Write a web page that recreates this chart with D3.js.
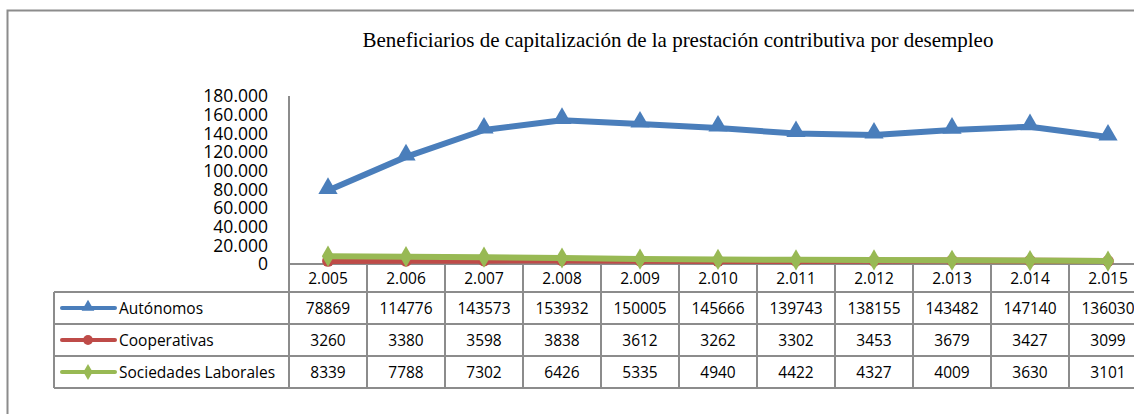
<!DOCTYPE html>
<html>
<head>
<meta charset="utf-8">
<style>
  body { margin: 0; background: #fff; }
  svg { display: block; }
  .ylab { font-family: "Open Sans", sans-serif; font-size: 17.5px; fill: #000; }
  .cell { font-family: "Open Sans", sans-serif; font-size: 15.5px; fill: #000; }
  .title { font-family: "Liberation Serif", serif; font-size: 21px; fill: #000; }
  .grid { stroke: #8c8c8c; stroke-width: 2; fill: none; }
</style>
</head>
<body>
<script src="https://cdn.jsdelivr.net/npm/d3@7"></script>
<script>
  // data
  var years = ["2.005", "2.006", "2.007", "2.008", "2.009", "2.010", "2.011", "2.012", "2.013", "2.014", "2.015"];
  var autonomos = [78869, 114776, 143573, 153932, 150005, 145666, 139743, 138155, 143482, 147140, 136030];
  var cooperativas = [3260, 3380, 3598, 3838, 3612, 3262, 3302, 3453, 3679, 3427, 3099];
  var sociedades = [8339, 7788, 7302, 6426, 5335, 4940, 4422, 4327, 4009, 3630, 3101];
  var yTicks = [0, 20000, 40000, 60000, 80000, 100000, 120000, 140000, 160000, 180000];
  var title = "Beneficiarios de capitalización de la prestación contributiva por desempleo";

  var series = [
    { name: "Autónomos", values: autonomos, color: "#4a7ebb", marker: "triangle" },
    { name: "Cooperativas", values: cooperativas, color: "#be4b48", marker: "circle" },
    { name: "Sociedades Laborales", values: sociedades, color: "#98b954", marker: "diamond" }
  ];

  var width = 1134, height = 414;
  var plotLeft = 289, colW = 78, plotTop = 96, plotBottom = 264;
  var headerH = 28, rowH = 32, tableLeft = 54;

  var svg = d3.select("body").append("svg")
    .attr("width", width).attr("height", height);

  // outer chart frame (runs off right and bottom)
  svg.append("rect")
    .attr("x", 7.5).attr("y", 10.5)
    .attr("width", width + 20).attr("height", height + 20)
    .attr("fill", "none").attr("stroke", "#8c8c8c").attr("stroke-width", 2);

  svg.append("text").attr("class", "title")
    .attr("x", 678).attr("y", 47)
    .attr("text-anchor", "middle")
    .text(title);

  var x = d3.scaleBand().domain(years).range([plotLeft, plotLeft + colW * years.length]);
  var y = d3.scaleLinear().domain([0, 180000]).range([plotBottom, plotTop]);

  var fmt = d3.formatLocale({ decimal: ",", thousands: ".", grouping: [3] }).format(",d");

  // y labels
  svg.append("g").selectAll("text")
    .data(yTicks).join("text")
    .attr("class", "ylab")
    .attr("x", 268)
    .attr("y", d => y(d))
    .attr("dy", "0.36em")
    .attr("text-anchor", "end")
    .text(d => fmt(d));

  // axis line
  svg.append("line").attr("class", "grid")
    .attr("x1", plotLeft).attr("x2", plotLeft)
    .attr("y1", plotTop).attr("y2", plotBottom);

  // table
  var tableBottom = plotBottom + headerH + rowH * series.length;
  var tableRight = plotLeft + colW * years.length;
  var tbl = svg.append("g");

  // horizontal lines
  tbl.append("line").attr("class", "grid")
    .attr("x1", plotLeft).attr("x2", tableRight)
    .attr("y1", plotBottom).attr("y2", plotBottom);
  d3.range(series.length + 1).forEach(function (i) {
    var yy = plotBottom + headerH + rowH * i;
    tbl.append("line").attr("class", "grid")
      .attr("x1", tableLeft).attr("x2", tableRight)
      .attr("y1", yy).attr("y2", yy);
  });
  // vertical lines
  tbl.append("line").attr("class", "grid")
    .attr("x1", tableLeft).attr("x2", tableLeft)
    .attr("y1", plotBottom + headerH).attr("y2", tableBottom);
  d3.range(years.length + 1).forEach(function (i) {
    var xx = plotLeft + colW * i;
    tbl.append("line").attr("class", "grid")
      .attr("x1", xx).attr("x2", xx)
      .attr("y1", plotBottom).attr("y2", tableBottom);
  });

  // year header
  tbl.selectAll("text.year")
    .data(years).join("text")
    .attr("class", "cell year")
    .attr("x", d => x(d) + x.bandwidth() / 2)
    .attr("y", plotBottom + headerH / 2)
    .attr("dy", "0.36em")
    .attr("text-anchor", "middle")
    .text(d => d);

  var markerSym = {
    triangle: d3.symbolTriangle,
    circle: d3.symbolCircle,
    diamond: d3.symbolDiamond
  };

  series.forEach(function (s, i) {
    var rowY = plotBottom + headerH + rowH * i + rowH / 2;
    // legend key
    tbl.append("line")
      .attr("x1", 62).attr("x2", 115)
      .attr("y1", rowY).attr("y2", rowY)
      .attr("stroke", s.color).attr("stroke-width", 4)
      .attr("stroke-linecap", "round");
    tbl.append("path")
      .attr("transform", "translate(88," + (rowY - (s.marker == "triangle" ? 1 : 0)) + ")")
      .attr("d", d3.symbol().type(markerSym[s.marker]).size(s.marker == "triangle" ? 70 : 75)())
      .attr("fill", s.color);
    tbl.append("text").attr("class", "cell")
      .attr("x", 119).attr("y", rowY).attr("dy", "0.36em")
      .text(s.name);
    tbl.selectAll("text.v" + i)
      .data(s.values).join("text")
      .attr("class", "cell v" + i)
      .attr("x", (d, j) => x(years[j]) + x.bandwidth() / 2)
      .attr("y", rowY).attr("dy", "0.36em")
      .attr("text-anchor", "middle")
      .text(d => d);
  });

  // lines: Cooperativas, Sociedades, Autónomos
  var line = d3.line()
    .x((d, j) => x(years[j]) + x.bandwidth() / 2)
    .y(d => y(d));

  var drawOrder = [1, 2, 0];
  drawOrder.forEach(function (k) {
    var s = series[k];
    var g = svg.append("g");
    g.append("path")
      .attr("d", line(s.values))
      .attr("fill", "none")
      .attr("stroke", s.color)
      .attr("stroke-width", 6)
      .attr("stroke-linejoin", "round")
      .attr("stroke-linecap", "round");
    var sz = s.marker == "triangle" ? 160 : (s.marker == "circle" ? 110 : 130);
    g.selectAll("path.m")
      .data(s.values).join("path")
      .attr("class", "m")
      .attr("transform", (d, j) => "translate(" + (x(years[j]) + x.bandwidth() / 2) + "," + (y(d) - (s.marker == "triangle" ? 2 : 0)) + ")")
      .attr("d", d3.symbol().type(markerSym[s.marker]).size(sz)())
      .attr("fill", s.color);
  });
</script>
</body>
</html>
